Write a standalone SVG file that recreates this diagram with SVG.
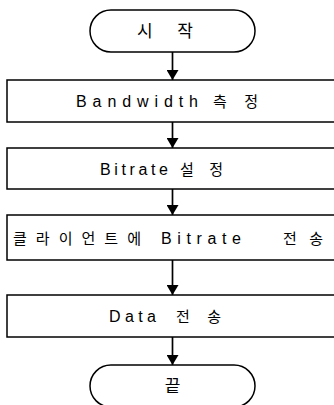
<svg xmlns="http://www.w3.org/2000/svg" width="334" height="405" viewBox="0 0 334 405">
<defs>
<style>
.shape{fill:#fff;stroke:#000;stroke-width:1.5}
.conn{stroke:#000;stroke-width:1.7;fill:none;marker-end:url(#arr)}
.lbl{font-family:"Liberation Sans","Noto Sans CJK KR",sans-serif;font-size:16px;fill:#000}
.ko{font-family:"Noto Sans CJK KR",sans-serif;font-size:15px}
.term{font-family:"Noto Sans CJK KR",sans-serif;font-size:17px;fill:#000}
</style>
<marker id="arr" viewBox="0 0 10 12" refX="10" refY="6" markerWidth="10" markerHeight="12" orient="auto" markerUnits="userSpaceOnUse">
<path d="M0,0 L10,6 L0,12 z" fill="#000"/>
</marker>
</defs>
<rect width="334" height="405" fill="#fff"/>
<g id="connectors">
<line class="conn" x1="172.5" y1="52" x2="172.5" y2="80"/>
<line class="conn" x1="172.5" y1="122" x2="172.5" y2="148"/>
<line class="conn" x1="172.5" y1="189" x2="172.5" y2="215"/>
<line class="conn" x1="172.5" y1="260" x2="172.5" y2="295"/>
<line class="conn" x1="172.5" y1="337" x2="172.5" y2="365"/>
</g>
<g id="start">
<rect class="shape" x="90" y="10" width="165" height="42" rx="21"/>
<text class="term" x="137" y="37" textLength="56" lengthAdjust="spacing">시작</text>
</g>
<g id="measure">
<rect class="shape" x="7" y="80" width="331" height="42"/>
<text class="lbl" y="107"><tspan x="76" textLength="122" lengthAdjust="spacing">Bandwidth</tspan><tspan class="ko" x="213" textLength="45" lengthAdjust="spacing">측정</tspan></text>
</g>
<g id="setbitrate">
<rect class="shape" x="7" y="148" width="331" height="41"/>
<text class="lbl" y="175"><tspan x="100" textLength="68" lengthAdjust="spacing">Bitrate</tspan><tspan class="ko" x="180" textLength="43" lengthAdjust="spacing">설정</tspan></text>
</g>
<g id="sendclient">
<rect class="shape" x="7" y="215" width="331" height="45"/>
<text class="lbl" y="244"><tspan class="ko" x="13" textLength="128" lengthAdjust="spacing">클라이언트에</tspan><tspan x="161" textLength="80" lengthAdjust="spacing">Bitrate</tspan><tspan class="ko" x="283" textLength="40" lengthAdjust="spacing">전송</tspan></text>
</g>
<g id="senddata">
<rect class="shape" x="7" y="295" width="331" height="42"/>
<text class="lbl" y="322"><tspan x="109" textLength="47" lengthAdjust="spacing">Data</tspan><tspan class="ko" x="176" textLength="45" lengthAdjust="spacing">전송</tspan></text>
</g>
<g id="end">
<rect class="shape" x="90" y="365" width="165" height="42" rx="21"/>
<text class="term" x="172.5" y="392" text-anchor="middle">끝</text>
</g>
</svg>
